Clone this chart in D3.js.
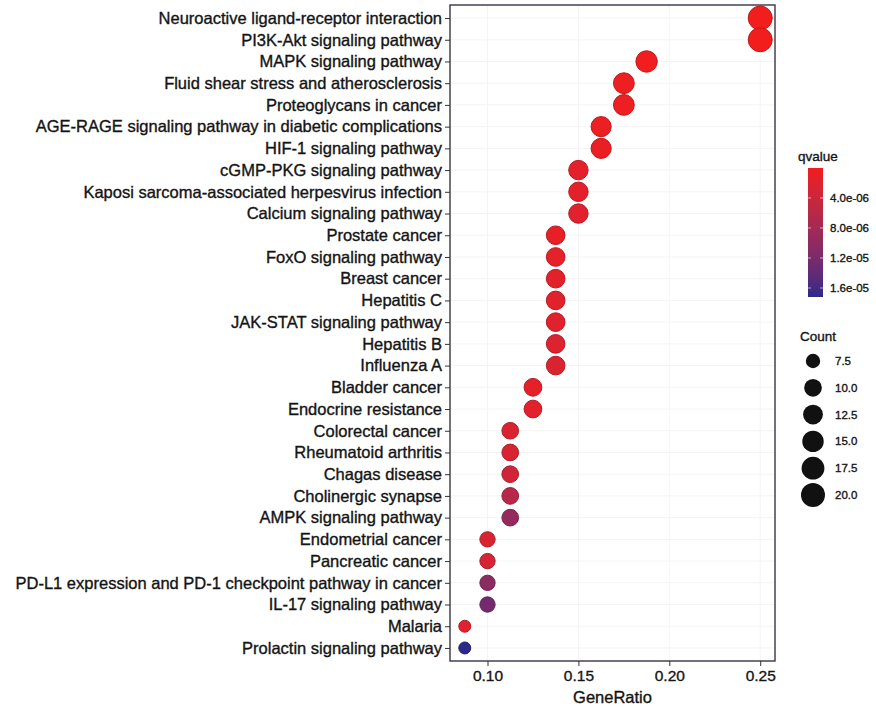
<!DOCTYPE html>
<html>
<head>
<meta charset="utf-8">
<script src="https://cdn.jsdelivr.net/npm/d3@7"></script>
<style>
  body { margin: 0; background: #fff; }
  svg { display: block; font-family: "Liberation Sans", Arial, sans-serif; }
</style>
</head>
<body>
<svg id="chart" width="876" height="708"></svg>
<script>
const categories = [
  "Neuroactive ligand-receptor interaction",
  "PI3K-Akt signaling pathway",
  "MAPK signaling pathway",
  "Fluid shear stress and atherosclerosis",
  "Proteoglycans in cancer",
  "AGE-RAGE signaling pathway in diabetic complications",
  "HIF-1 signaling pathway",
  "cGMP-PKG signaling pathway",
  "Kaposi sarcoma-associated herpesvirus infection",
  "Calcium signaling pathway",
  "Prostate cancer",
  "FoxO signaling pathway",
  "Breast cancer",
  "Hepatitis C",
  "JAK-STAT signaling pathway",
  "Hepatitis B",
  "Influenza A",
  "Bladder cancer",
  "Endocrine resistance",
  "Colorectal cancer",
  "Rheumatoid arthritis",
  "Chagas disease",
  "Cholinergic synapse",
  "AMPK signaling pathway",
  "Endometrial cancer",
  "Pancreatic cancer",
  "PD-L1 expression and PD-1 checkpoint pathway in cancer",
  "IL-17 signaling pathway",
  "Malaria",
  "Prolactin signaling pathway"
];
const geneRatio = [0.25, 0.25, 0.1875, 0.175, 0.175, 0.1625, 0.1625, 0.15, 0.15, 0.15,
  0.1375, 0.1375, 0.1375, 0.1375, 0.1375, 0.1375, 0.1375, 0.125, 0.125,
  0.1125, 0.1125, 0.1125, 0.1125, 0.1125, 0.10, 0.10, 0.10, 0.10, 0.0875, 0.0875];
const counts = [20, 20, 15, 14, 14, 13, 13, 12, 12, 12, 11, 11, 11, 11, 11, 11, 11, 10, 10,
  9, 9, 9, 9, 9, 8, 8, 8, 8, 7, 7];
const qvalues = [1e-8, 1e-8, 2e-7, 5e-7, 5e-7, 6e-7, 8e-7, 1.5e-6, 1.5e-6, 2e-6,
  1.2e-6, 1.4e-6, 1.6e-6, 1.8e-6, 2e-6, 2.2e-6, 2.4e-6, 1.5e-6, 1.8e-6,
  2.5e-6, 2.8e-6, 3.5e-6, 6e-6, 9.5e-6, 2.5e-6, 3e-6, 1.05e-5, 1.25e-5, 2e-6, 1.72e-5];
const xTicks = [0.10, 0.15, 0.20, 0.25];
const qTicks = [4e-6, 8e-6, 1.2e-5, 1.6e-5];
const qTickLabels = ["4.0e-06", "8.0e-06", "1.2e-05", "1.6e-05"];
const countTicks = [7.5, 10.0, 12.5, 15.0, 17.5, 20.0];

const data = categories.map((c, i) => ({ term: c, ratio: geneRatio[i], count: counts[i], q: qvalues[i] }));

const svg = d3.select("#chart");
const P = { left: 450, right: 775, top: 5, bottom: 661 };
const TXT = "#141414";

const rMin = d3.min(geneRatio), rMax = d3.max(geneRatio);
const pad = (rMax - rMin) * 0.05;
const x = d3.scaleLinear().domain([rMin - pad, rMax + pad]).range([P.left, P.right]);
const y = d3.scalePoint().domain(categories).range([P.top, P.bottom]).padding(0.6);

const cMin = d3.min(counts), cMax = d3.max(counts);
const rs = d3.scaleSqrt().domain([0, cMax - cMin]).range([0, 6]).clamp(true);
const radius = c => 6 + rs(c - cMin);

const qExt = d3.extent(qvalues);
const color = d3.scaleSequential(d3.interpolateLab("#f21d1d", "#2b2a88")).domain(qExt);

// grid
const g = svg.append("g");
g.selectAll(".gx").data(xTicks).join("line")
  .attr("x1", d => x(d)).attr("x2", d => x(d))
  .attr("y1", P.top).attr("y2", P.bottom)
  .attr("stroke", "#f4f4f4").attr("stroke-width", 1);
g.selectAll(".gy").data(categories).join("line")
  .attr("x1", P.left).attr("x2", P.right)
  .attr("y1", d => y(d)).attr("y2", d => y(d))
  .attr("stroke", "#f4f4f4").attr("stroke-width", 1);

// points
svg.append("g").selectAll("circle").data(data).join("circle")
  .attr("cx", d => x(d.ratio)).attr("cy", d => y(d.term))
  .attr("r", d => radius(d.count))
  .attr("fill", d => color(d.q))
  .attr("stroke", d => d3.color(color(d.q)).darker(0.6))
  .attr("stroke-width", 1);

// panel border
svg.append("rect").attr("x", P.left).attr("y", P.top)
  .attr("width", P.right - P.left).attr("height", P.bottom - P.top)
  .attr("fill", "none").attr("stroke", "#3a3448").attr("stroke-width", 1.4);

function styleText(sel, size) {
  sel.attr("font-size", size).attr("fill", TXT)
    .attr("stroke", TXT).attr("stroke-width", 0.35)
    .attr("font-family", "Liberation Sans, Arial, sans-serif");
}

// y axis
const yAxis = svg.append("g").attr("transform", `translate(${P.left},0)`)
  .call(d3.axisLeft(y).tickSize(5).tickPadding(3));
yAxis.select(".domain").remove();
yAxis.selectAll("line").attr("stroke", "#333");
styleText(yAxis.selectAll("text"), 16.5);

// x axis
const xAxis = svg.append("g").attr("transform", `translate(0,${P.bottom})`)
  .call(d3.axisBottom(x).tickValues(xTicks).tickFormat(d3.format(".2f")).tickSize(5).tickPadding(4));
xAxis.select(".domain").remove();
xAxis.selectAll("line").attr("stroke", "#333");
styleText(xAxis.selectAll("text"), 15.5);

styleText(svg.append("text").attr("x", (P.left + P.right) / 2).attr("y", 703)
  .attr("text-anchor", "middle").text("GeneRatio"), 16.5);

// colour legend
const CB = { x: 808, y: 168, w: 15, h: 129 };
styleText(svg.append("text").attr("x", 798).attr("y", 161).text("qvalue"), 13.5);
const defs = svg.append("defs");
const grad = defs.append("linearGradient").attr("id", "qgrad").attr("x1", 0).attr("y1", 0).attr("x2", 0).attr("y2", 1);
d3.range(0, 1.0001, 0.1).forEach(t => {
  grad.append("stop").attr("offset", t).attr("stop-color", color(qExt[0] + t * (qExt[1] - qExt[0])));
});
svg.append("rect").attr("x", CB.x).attr("y", CB.y).attr("width", CB.w).attr("height", CB.h).attr("fill", "url(#qgrad)");
const qy = d3.scaleLinear().domain(qExt).range([CB.y, CB.y + CB.h]);
const cbTicks = svg.append("g");
qTicks.forEach((v, i) => {
  cbTicks.append("line").attr("x1", CB.x).attr("x2", CB.x + 3).attr("y1", qy(v)).attr("y2", qy(v)).attr("stroke", "#fff").attr("stroke-opacity", 0.6);
  cbTicks.append("line").attr("x1", CB.x + CB.w - 3).attr("x2", CB.x + CB.w).attr("y1", qy(v)).attr("y2", qy(v)).attr("stroke", "#fff").attr("stroke-opacity", 0.6);
  styleText(cbTicks.append("text").attr("x", CB.x + CB.w + 7).attr("y", qy(v)).attr("dy", "0.35em").text(qTickLabels[i]), 11.5);
});

// size legend
styleText(svg.append("text").attr("x", 800).attr("y", 341).text("Count"), 13.5);
const sl = d3.scaleLinear().domain([0, countTicks.length - 1]).range([361, 495]);
const sg = svg.append("g");
countTicks.forEach((c, i) => {
  sg.append("circle").attr("cx", 813).attr("cy", sl(i)).attr("r", radius(c)).attr("fill", "#111");
  styleText(sg.append("text").attr("x", 835).attr("y", sl(i)).attr("dy", "0.35em").text(d3.format(".1f")(c)), 11.5);
});
</script>
</body>
</html>
